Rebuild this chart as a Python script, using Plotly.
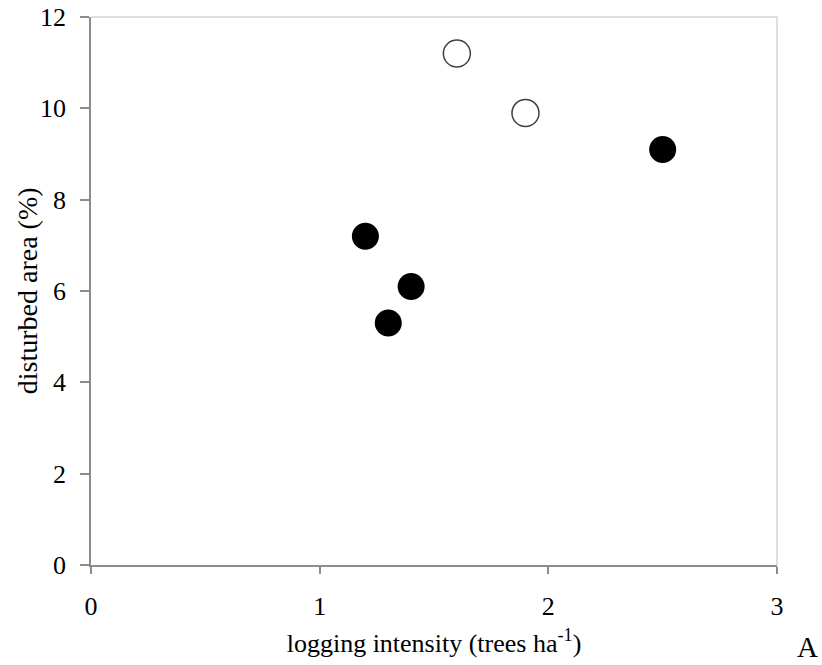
import plotly.graph_objects as go

# Data
open_x = [1.6, 1.9]
open_y = [11.2, 9.9]
filled_x = [2.5, 1.2, 1.4, 1.3]
filled_y = [9.1, 7.2, 6.1, 5.3]
x_ticks = [0, 1, 2, 3]
y_ticks = [0, 2, 4, 6, 8, 10, 12]
x_title = "logging intensity (trees ha<sup>-1</sup>)"
y_title = "disturbed area (%)"
panel_label = "A"

FONT = "Liberation Serif, Times New Roman, serif"

fig = go.Figure()
fig.add_trace(go.Scatter(
    x=open_x, y=open_y, mode="markers",
    marker=dict(size=27, color="white", line=dict(color="#404040", width=1.5)),
    showlegend=False, cliponaxis=False))
fig.add_trace(go.Scatter(
    x=filled_x, y=filled_y, mode="markers",
    marker=dict(size=27, color="black", line=dict(color="black", width=0)),
    showlegend=False, cliponaxis=False))

fig.update_layout(
    width=822, height=665,
    margin=dict(l=91, r=45, t=17, b=100),
    plot_bgcolor="white", paper_bgcolor="white",
    font=dict(family=FONT, color="black"),
    xaxis=dict(
        range=[0, 3], tickvals=x_ticks, ticktext=[str(v) for v in x_ticks],
        showgrid=False, zeroline=False, showline=True, linecolor="#8c8c8c", linewidth=1.5,
        ticks="outside", ticklen=7, tickwidth=1.5, tickcolor="#8c8c8c",
        ticklabelstandoff=10, automargin=False,
        tickfont=dict(size=26, family=FONT, color="black"),
        title=dict(text=x_title, font=dict(size=26, family=FONT, color="black"), standoff=14),
    ),
    yaxis=dict(
        range=[0, 12], tickvals=y_ticks, ticktext=[str(v) for v in y_ticks],
        showgrid=False, zeroline=False, showline=True, linecolor="#8c8c8c", linewidth=1.5,
        ticks="outside", ticklen=9, tickwidth=1.5, tickcolor="#8c8c8c",
        ticklabelstandoff=9, automargin=False,
        tickfont=dict(size=26, family=FONT, color="black"),
    ),
    shapes=[
        dict(type="line", xref="paper", yref="paper", x0=0, x1=1, y0=1, y1=1,
             line=dict(color="#d4d4d4", width=1.5)),
        dict(type="line", xref="paper", yref="paper", x0=1, x1=1, y0=0, y1=1,
             line=dict(color="#d4d4d4", width=1.5)),
    ],
    annotations=[
        dict(text=y_title, xref="paper", yref="paper", x=-0.093, y=0.5,
             xanchor="center", yanchor="middle", textangle=-90, showarrow=False,
             font=dict(size=28, family=FONT, color="black")),
        dict(text=panel_label, xref="paper", yref="paper", x=1.0445, y=-0.150,
             xanchor="center", yanchor="middle", showarrow=False,
             font=dict(size=29, family=FONT, color="black")),
    ],
)

fig.write_html("out.html", config={"displayModeBar": False},
               post_script="document.body.style.margin='0';")
